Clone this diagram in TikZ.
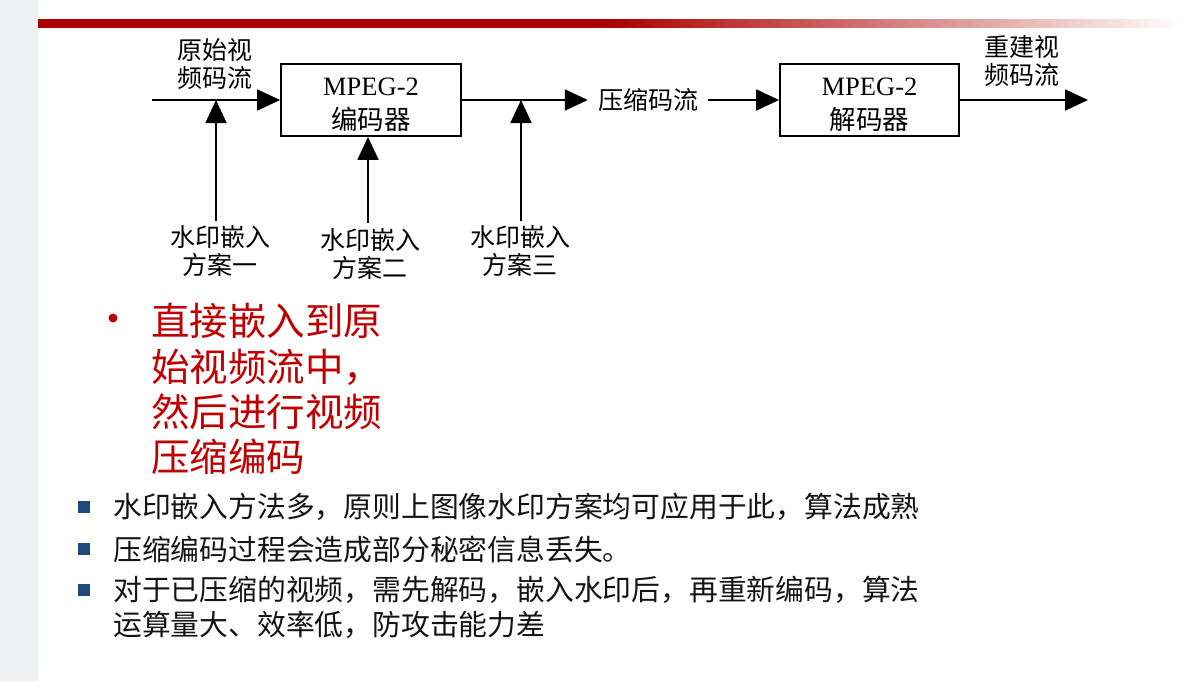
\documentclass[tikz,border=0pt]{standalone}
\usepackage{fontspec}
\setmainfont{Liberation Serif}
\newfontfamily\cjk{Noto Sans CJK SC}
\usetikzlibrary{arrows.meta}
\definecolor{barred}{RGB}{172,0,0}
\definecolor{txtred}{RGB}{192,0,0}
\definecolor{sqblue}{RGB}{31,73,125}
\definecolor{stripgray}{RGB}{240,241,243}
\definecolor{bodytxt}{RGB}{20,20,20}
\pgfdeclarehorizontalshading{barshade}{100bp}{color(0bp)=(barred); color(25bp)=(barred); color(50bp)=(barred); color(75bp)=(white); color(100bp)=(white)}
\newcommand{\toppad}{\rule{0pt}{27pt}}
\begin{document}
\begin{tikzpicture}[x=1pt,y=-1pt,
  box/.style={draw, line width=1.8pt, minimum width=180pt, minimum height=72pt, inner sep=0pt, align=center, font=\fontsize{26.5}{34}\selectfont},
  lbl/.style={align=center, inner sep=0pt, font=\cjk\fontsize{25}{28}\selectfont},
  arr/.style={line width=1.9pt, -{Triangle[length=23pt,width=21pt]}},
  redline/.style={anchor=west, inner sep=0pt, text=txtred, font=\cjk\fontsize{38.5}{45}\selectfont},
  bodyline/.style={anchor=west, inner sep=0pt, text=bodytxt, font=\cjk\fontsize{28.8}{34}\selectfont},
  sq/.style={fill=sqblue, minimum size=12pt, inner sep=0pt},
  reddot/.style={circle, fill=txtred, minimum size=9pt, inner sep=0pt}
]
\useasboundingbox (0,0) rectangle (1182,681);
% background decorations
\fill[stripgray] (0,0) rectangle (38,681);
\shade[shading=barshade] (38,19.5) rectangle (1182,27.5);

% diagram
\coordinate (in) at (152,100);
\node[box] (enc) at (371,100) {\toppad MPEG-2\\{\cjk 编码器}};
\node[lbl, inner sep=10pt] (cs) at (648,100) {压缩码流};
\node[box, minimum width=179pt] (dec) at (869.5,100) {\toppad MPEG-2\\{\cjk 解码器}};
\coordinate (out) at (1088,100);

\draw[arr] (in) -- (enc.west);
\draw[arr] (enc.east) -- (cs.west);
\draw[arr] (cs.east) -- (dec.west);
\draw[arr] (dec.east) -- (out);

\node[lbl] (src) at (215,64) {原始视\\频码流};
\node[lbl] (rec) at (1022,61) {重建视\\频码流};

\node[lbl] (s1) at (220,251) {水印嵌入\\方案一};
\node[lbl] (s2) at (370,254) {水印嵌入\\方案二};
\node[lbl] (s3) at (520,251) {水印嵌入\\方案三};

\coordinate (j1) at (216,100);
\coordinate (b1) at (216,221);
\coordinate (b2) at (368,223);
\coordinate (j3) at (521,100);
\coordinate (b3) at (521,221);
\draw[arr] (b1) -- (j1);
\draw[arr] (b2) -- (enc.south -| b2);
\draw[arr] (b3) -- (j3);

% red bullet text
\node[reddot] (dot) at (113,318) {};
\node[redline] (r1) at (151,321) {直接嵌入到原};
\node[redline] (r2) at (151,367) {始视频流中，};
\node[redline] (r3) at (151,412) {然后进行视频};
\node[redline] (r4) at (151,457) {压缩编码};

% body bullets
\node[sq] (q1) at (84,507) {};
\node[sq] (q2) at (84,549) {};
\node[sq] (q3) at (84,590) {};
\node[bodyline] (t1) at (113,507) {水印嵌入方法多，原则上图像水印方案均可应用于此，算法成熟};
\node[bodyline] (t2) at (113,549) {压缩编码过程会造成部分秘密信息丢失。};
\node[bodyline] (t3) at (113,590) {对于已压缩的视频，需先解码，嵌入水印后，再重新编码，算法};
\node[bodyline] (t4) at (113,625) {运算量大、效率低，防攻击能力差};
\end{tikzpicture}
\end{document}
